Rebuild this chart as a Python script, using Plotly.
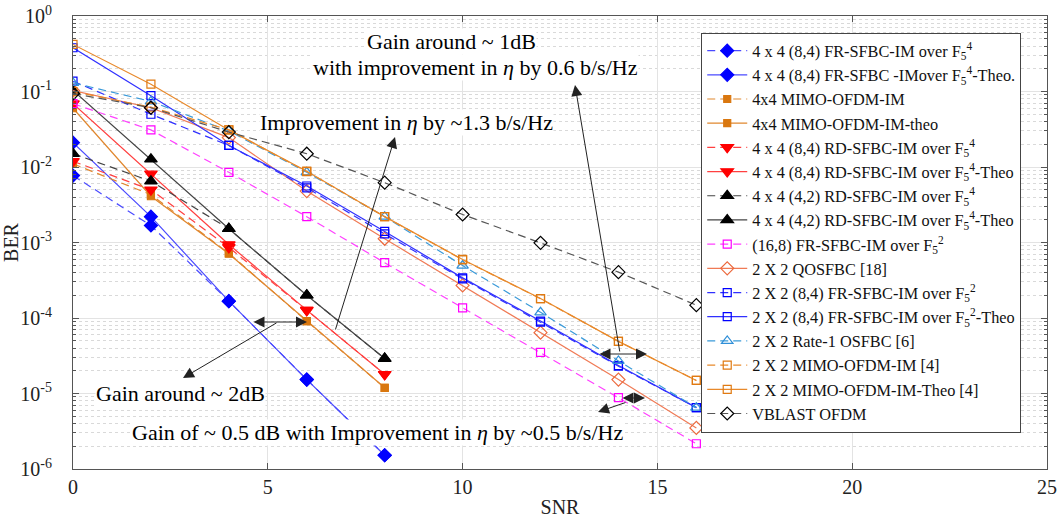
import plotly.graph_objects as go

# ---------------- data ----------------
snr4 = [0, 2, 4, 6, 8]
snr2 = [0, 2, 4, 6, 8, 10, 12, 14, 16]

fr84_sim = [0.0077, 0.00168, 1.67e-4, 1.53e-5, 1.52e-6]
fr84_theo = [0.021, 0.0022, 1.67e-4, 1.53e-5, 1.52e-6]
mimo44_sim = [0.011, 0.0043, 7.2e-4, 9.1e-5, 1.19e-5]
mimo44_theo = [0.06, 0.0041, 7.1e-4, 9.1e-5, 1.19e-5]
rd84_sim = [0.0119, 0.0050, 8.6e-4, 1.27e-4, 1.8e-5]
rd84_theo = [0.069, 0.0081, 9.4e-4, 1.27e-4, 1.8e-5]
rd42_sim = [0.015, 0.0065, 1.52e-3, 2.0e-4, 2.9e-5]
rd42_theo = [0.103, 0.0127, 1.52e-3, 2.0e-4, 2.9e-5]

fr168_sim = [0.069, 0.031, 0.0085, 0.0022, 5.4e-4, 1.36e-4, 3.5e-5, 8.8e-6, 2.16e-6]
qosfbc = [0.103, 0.061, 0.0245, 0.0048, 0.00112, 2.7e-4, 6.4e-5, 1.53e-5, 3.5e-6]
fr22_sim = [0.137, 0.05, 0.0193, 0.0053, 0.0013, 3.3e-4, 8.8e-5, 2.3e-5, 6.5e-6]
fr22_theo = [0.38, 0.088, 0.0193, 0.0056, 0.0014, 3.4e-4, 9.1e-5, 2.35e-5, 6.5e-6]
rate1_osfbc = [0.13, 0.074, 0.030, 0.0085, 0.0022, 4.95e-4, 1.19e-4, 2.7e-5, 6.5e-6]
mimo22_sim = [0.10, 0.062, 0.031, 0.0087, 0.0022, 5.9e-4, 1.8e-4, 4.9e-5, 1.49e-5]
mimo22_theo = [0.42, 0.125, 0.031, 0.0088, 0.0022, 5.96e-4, 1.81e-4, 4.9e-5, 1.49e-5]
vblast = [0.094, 0.061, 0.029, 0.015, 0.0062, 0.00235, 9.9e-4, 4.05e-4, 1.48e-4]

names = [
    "4 x 4 (8,4) FR-SFBC-IM over F<sub>5</sub><sup>4</sup>",
    "4 x 4 (8,4) FR-SFBC -IMover F<sub>5</sub><sup>4</sup>-Theo.",
    "4x4 MIMO-OFDM-IM",
    "4x4 MIMO-OFDM-IM-theo",
    "4 x 4 (8,4) RD-SFBC-IM over F<sub>5</sub><sup>4</sup>",
    "4 x 4 (8,4) RD-SFBC-IM over F<sub>5</sub><sup>4</sup>-Theo",
    "4 x 4 (4,2) RD-SFBC-IM over F<sub>5</sub><sup>4</sup>",
    "4 x 4 (4,2) RD-SFBC-IM over F<sub>5</sub><sup>4</sup>-Theo",
    "(16,8) FR-SFBC-IM over F<sub>5</sub><sup>2</sup>",
    "2 X 2 QOSFBC [18]",
    "2 X 2 (8,4) FR-SFBC-IM over F<sub>5</sub><sup>2</sup>",
    "2 X 2 (8,4) FR-SFBC-IM over F<sub>5</sub><sup>2</sup>-Theo",
    "2 X 2 Rate-1 OSFBC [6]",
    "2 X 2 MIMO-OFDM-IM [4]",
    "2 X 2 MIMO-OFDM-IM-Theo [4]",
    "VBLAST OFDM",
]

FONT = "Liberation Serif, Times New Roman, serif"
DASH = "8px,5px"

# (x, y, line color, dash, marker symbol, marker color, marker size)
series = [
    (snr4, fr84_sim, "#4a4aff", DASH, "diamond", "#0000ff", 10),
    (snr4, fr84_theo, "#4a4aff", "solid", "diamond", "#0000ff", 10),
    (snr4, mimo44_sim, "#e0872e", DASH, "square", "#d9770f", 7),
    (snr4, mimo44_theo, "#e0872e", "solid", "square", "#d9770f", 7),
    (snr4, rd84_sim, "#ff4040", DASH, "triangle-down", "#ff0000", 11),
    (snr4, rd84_theo, "#ff4040", "solid", "triangle-down", "#ff0000", 11),
    (snr4, rd42_sim, "#444444", DASH, "triangle-up", "#000000", 11),
    (snr4, rd42_theo, "#444444", "solid", "triangle-up", "#000000", 11),
    (snr2, fr168_sim, "#ff40ff", DASH, "square-open", "#ff00ff", 8),
    (snr2, qosfbc, "#f07a55", "solid", "diamond-open", "#ec6a3e", 10),
    (snr2, fr22_sim, "#3030ff", DASH, "square-open", "#0000ff", 8),
    (snr2, fr22_theo, "#3030ff", "solid", "square-open", "#0000ff", 8),
    (snr2, rate1_osfbc, "#3a9ad9", DASH, "triangle-up-open", "#2f8fd8", 10),
    (snr2, mimo22_sim, "#e8892b", DASH, "square-open", "#e07a12", 8),
    (snr2, mimo22_theo, "#e8892b", "solid", "square-open", "#e07a12", 8),
    (snr2, vblast, "#555555", DASH, "diamond-open", "#000000", 10),
]

fig = go.Figure()
for (xs, ys, lc, dash, sym, mc, ms), nm in zip(series, names):
    fig.add_trace(go.Scatter(
        x=xs, y=ys, name=nm, mode="lines+markers",
        line=dict(color=lc, width=1.2, dash=dash),
        marker=dict(symbol=sym, color=mc, size=ms, line=dict(color=mc, width=1.2)),
    ))

# ---------------- layout helpers (pixel -> data) ----------------
L, T, W, H = 73.0, 16.0, 974.0, 453.0


def xd(px):
    return (px - L) / W * 25.0


def yd(py):
    return -(py - T) / H * 6.0


ytickvals = [10.0 ** (-k) for k in range(0, 7)]
yticktext = ["10<sup>%s</sup>" % ("0" if k == 0 else "-%d" % k) for k in range(0, 7)]
minor_vals = [m * 10.0 ** (-k) for k in range(1, 7) for m in range(2, 10)]

annotations = []
# text boxes
for txt, cx, cy in [
    ("Gain around ~ 1dB", 451, 41),
    ("with improvement in <i>η</i> by 0.6 b/s/Hz", 475, 67),
    ("Improvement in <i>η</i> by ~1.3 b/s/Hz", 406, 122),
    ("Gain around ~ 2dB", 180, 393),
    ("Gain of ~ 0.5 dB with Improvement in <i>η</i> by ~0.5 b/s/Hz", 377, 432),
]:
    annotations.append(dict(
        x=xd(cx), y=yd(cy), xref="x", yref="y", text=txt, showarrow=False,
        font=dict(family=FONT, size=22, color="black"), bgcolor="white",
        xanchor="center", yanchor="middle", borderpad=0,
    ))

# single arrows (tail -> head)
for (tx, ty, hx, hy) in [
    (335, 331, 395, 137),
    (620, 353, 575, 85),
    (627, 402, 598, 412),
    (278, 322, 183, 378),
]:
    annotations.append(dict(
        x=xd(hx), y=yd(hy), ax=xd(tx), ay=yd(ty), xref="x", yref="y",
        axref="x", ayref="y", text="", showarrow=True, arrowhead=2,
        arrowsize=2.2, arrowwidth=1, arrowcolor="#222222",
    ))

# double arrows
for (x0, x1, py) in [(252, 307, 322), (598, 647, 354), (621, 645, 398)]:
    annotations.append(dict(
        x=xd(x1), y=yd(py), ax=xd(x0), ay=yd(py), xref="x", yref="y",
        axref="x", ayref="y", text="", showarrow=True, arrowhead=2,
        startarrowhead=2, arrowside="end+start", arrowsize=2.2,
        startarrowsize=2.2, arrowwidth=1, arrowcolor="#222222",
    ))

shapes = [dict(
    type="circle", xref="x", yref="y",
    x0=xd(315), x1=xd(349), y0=yd(346), y1=yd(330),
    line=dict(color="#555555", width=1),
)]

fig.update_layout(
    width=1059, height=519,
    margin=dict(l=73, r=12, t=16, b=50, autoexpand=False),
    paper_bgcolor="white", plot_bgcolor="white",
    font=dict(family=FONT, size=20, color="#222222"),
    showlegend=True,
    legend=dict(
        x=0.645, y=0.9635, xanchor="left", yanchor="top",
        bgcolor="white", bordercolor="#444444", borderwidth=1,
        font=dict(family=FONT, size=16.3, color="#111111"),
        tracegroupgap=0, itemwidth=40,
    ),
    annotations=annotations,
    shapes=shapes,
    xaxis=dict(
        range=[0, 25], tickvals=[0, 5, 10, 15, 20, 25], automargin=False,
        showgrid=True, gridcolor="#e3e3e3", gridwidth=1,
        zeroline=False, showline=True, linecolor="#555555", linewidth=1,
        mirror="ticks", ticks="inside", ticklen=6, tickcolor="#555555",
        title=dict(text="SNR", font=dict(family=FONT, size=20), standoff=2),
        tickfont=dict(family=FONT, size=20, color="#222222"),
    ),
    yaxis=dict(
        type="log", range=[-6, 0], tickvals=ytickvals, ticktext=yticktext,
        automargin=False, ticklabelposition="outside", ticklabelstandoff=16,
        showgrid=True, gridcolor="#e3e3e3", gridwidth=1,
        zeroline=False, showline=True, linecolor="#555555", linewidth=1,
        mirror="ticks", ticks="inside", ticklen=6, tickcolor="#555555",
        minor=dict(tickvals=minor_vals, ticks="inside", ticklen=3,
                   tickcolor="#555555", showgrid=True, gridcolor="#d9d9d9",
                   griddash="dot", gridwidth=1),
        title=dict(text="BER", font=dict(family=FONT, size=20), standoff=0),
        tickfont=dict(family=FONT, size=20, color="#222222"),
    ),
)

fig.write_html("out.html")
